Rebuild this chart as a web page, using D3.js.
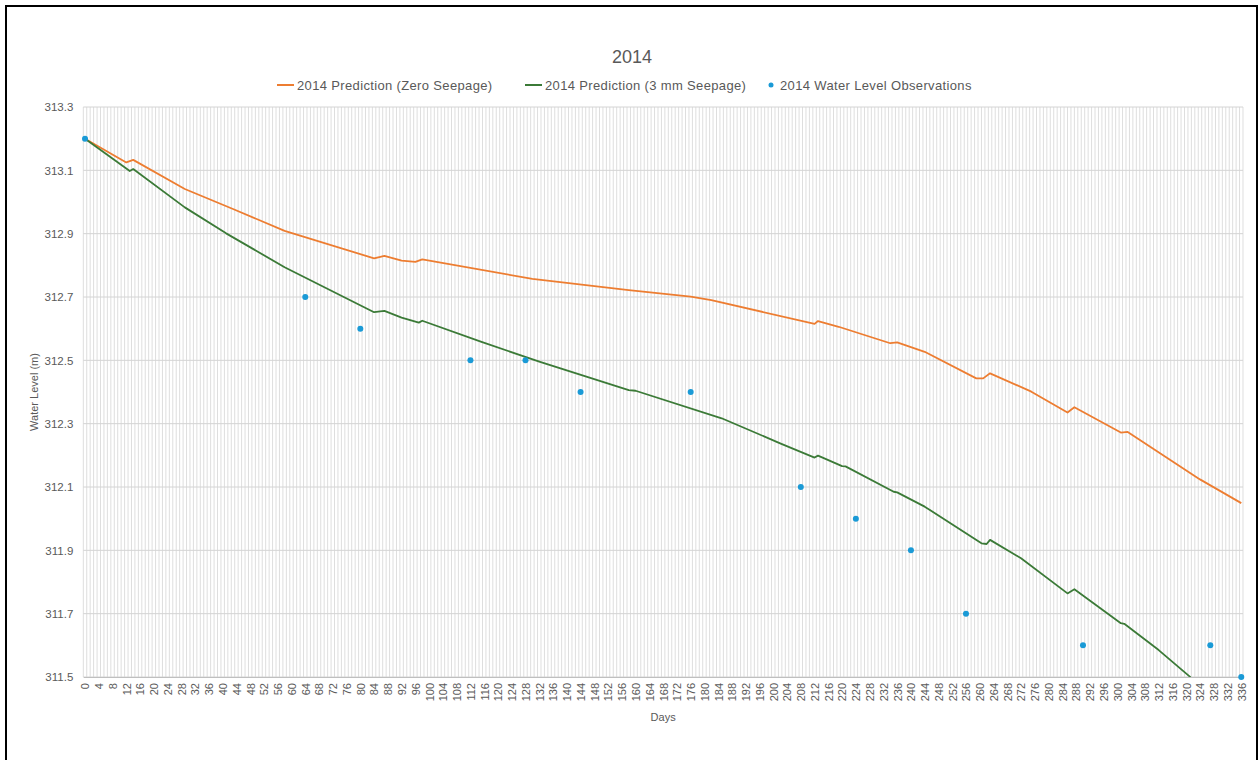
<!DOCTYPE html>
<html>
<head>
<meta charset="utf-8">
<script src="https://cdnjs.cloudflare.com/ajax/libs/d3/7.8.5/d3.min.js"></script>
<style>
  body { margin: 0; background: #fff; }
  text { font-family: "Liberation Sans", Arial, sans-serif; fill: #595959; }
</style>
</head>
<body>
<div id="chart"></div>
<script>
// days with a reading on each series
var zeroDays = [0, 12, 14, 29, 43, 58, 84, 87, 92, 96, 98, 130, 158, 176, 182, 212, 213, 219, 234, 236, 244, 259, 261, 263, 275, 285.5, 287.5, 301, 303, 324, 336];
var zeroLevel = [313.2, 313.125, 313.133, 313.041, 312.978, 312.909, 312.822, 312.830, 312.815, 312.811, 312.819, 312.757, 312.722, 312.701, 312.690, 312.615, 312.624, 312.606, 312.554, 312.557, 312.527, 312.443, 312.443, 312.459, 312.401, 312.335, 312.352, 312.272, 312.274, 312.124, 312.049];

var seepDays = [0, 13, 14, 29, 41, 58, 84, 87, 92, 97, 98, 115, 132, 158, 160, 185, 202, 212, 213, 220, 221, 235, 236, 244, 260.5, 262, 263, 272, 285.5, 287.5, 301, 302, 312, 321.3];
var seepLevel = [313.2, 313.098, 313.104, 312.983, 312.901, 312.794, 312.652, 312.656, 312.635, 312.619, 312.625, 312.559, 312.496, 312.406, 312.404, 312.317, 312.238, 312.193, 312.199, 312.166, 312.165, 312.085, 312.083, 312.038, 311.922, 311.920, 311.933, 311.875, 311.764, 311.777, 311.670, 311.668, 311.585, 311.499];

var obsDays = [0, 64, 80, 112, 128, 144, 176, 208, 224, 240, 256, 290, 327, 336];
var obsLevel = [313.2, 312.7, 312.6, 312.5, 312.5, 312.4, 312.4, 312.1, 312.0, 311.9, 311.7, 311.6, 311.6, 311.5];

var yTicks = [311.5, 311.7, 311.9, 312.1, 312.3, 312.5, 312.7, 312.9, 313.1, 313.3];
var xTicks = d3.range(0, 337, 4);
var allDays = d3.range(0, 337);

var seriesNames = ["2014 Prediction (Zero Seepage)", "2014 Prediction (3 mm Seepage)", "2014 Water Level Observations"];
var colors = ["#ed7d31", "#3b7a37", "#1a9ad6"];

var W = 1260, H = 760;
var margin = {top: 107, right: 17, bottom: 83, left: 83.3};
var width = W - margin.left - margin.right;
var height = H - margin.top - margin.bottom;

var x = d3.scaleLinear().domain([-0.5, 336.5]).range([0, width]);
var y = d3.scaleLinear().domain([311.5, 313.3]).range([height, 0]);

var svg = d3.select("#chart").append("svg")
    .attr("width", W)
    .attr("height", H);

svg.append("rect")
    .attr("x", 6).attr("y", 6)
    .attr("width", 1251).attr("height", 800)
    .attr("fill", "none")
    .attr("stroke", "#000")
    .attr("stroke-width", 2);

svg.append("text")
    .attr("x", 632).attr("y", 63)
    .attr("text-anchor", "middle")
    .style("font-size", "18px")
    .text("2014");

var g = svg.append("g")
    .attr("transform", "translate(" + margin.left + "," + margin.top + ")");

// dense day grid
g.append("g").selectAll("line")
    .data(allDays.concat([337]))
    .enter().append("line")
      .attr("x1", function(d) { return x(d - 0.5); })
      .attr("x2", function(d) { return x(d - 0.5); })
      .attr("y1", 0).attr("y2", height)
      .attr("stroke", "#dedede")
      .attr("stroke-width", 1);

g.append("g").selectAll("line")
    .data(yTicks)
    .enter().append("line")
      .attr("x1", 0).attr("x2", width)
      .attr("y1", function(d) { return y(d); })
      .attr("y2", function(d) { return y(d); })
      .attr("stroke", "#d4d4d4")
      .attr("stroke-width", 1);

// y axis
var yAxis = g.append("g")
    .call(d3.axisLeft(y).tickValues(yTicks).tickSize(0).tickPadding(10).tickFormat(d3.format(".1f")));
yAxis.select(".domain").remove();
yAxis.selectAll("text")
    .style("font-size", "11.5px")
    .style("fill", "#595959")
    .style("font-family", "'Liberation Sans', Arial, sans-serif");

// x axis
var xAxis = g.append("g")
    .attr("transform", "translate(0," + height + ")")
    .call(d3.axisBottom(x).tickValues(xTicks).tickSize(0).tickFormat(d3.format("d")));
xAxis.select(".domain").attr("stroke", "#bfbfbf");
xAxis.selectAll("text")
    .attr("transform", "rotate(-90)")
    .attr("text-anchor", "end")
    .attr("x", -6)
    .attr("y", 0)
    .attr("dy", "0.35em")
    .style("font-size", "11px")
    .style("fill", "#595959")
    .style("font-family", "'Liberation Sans', Arial, sans-serif");

svg.append("text")
    .attr("x", margin.left + width / 2)
    .attr("y", 721)
    .attr("text-anchor", "middle")
    .style("font-size", "11px")
    .text("Days");

svg.append("text")
    .attr("transform", "translate(38," + (margin.top + height / 2) + ") rotate(-90)")
    .attr("text-anchor", "middle")
    .style("font-size", "11px")
    .text("Water Level (m)");

g.append("clipPath").attr("id", "clip")
  .append("rect").attr("width", width).attr("height", height);

var line = d3.line()
    .x(function(d) { return x(d[0]); })
    .y(function(d) { return y(d[1]); });

g.append("path")
    .datum(d3.zip(zeroDays, zeroLevel))
    .attr("fill", "none")
    .attr("stroke", colors[0])
    .attr("stroke-width", 1.8)
    .attr("stroke-linejoin", "round")
    .attr("clip-path", "url(#clip)")
    .attr("d", line);

g.append("path")
    .datum(d3.zip(seepDays, seepLevel))
    .attr("fill", "none")
    .attr("stroke", colors[1])
    .attr("stroke-width", 1.8)
    .attr("stroke-linejoin", "round")
    .attr("clip-path", "url(#clip)")
    .attr("d", line);

g.append("g").selectAll("circle")
    .data(d3.zip(obsDays, obsLevel))
    .enter().append("circle")
      .attr("cx", function(d) { return x(d[0]); })
      .attr("cy", function(d) { return y(d[1]); })
      .attr("r", 3)
      .attr("fill", colors[2]);

// legend
var legendX = [277, 525, 767];
var legend = svg.append("g");
seriesNames.forEach(function(name, i) {
  var lg = legend.append("g").attr("transform", "translate(" + legendX[i] + ",85)");
  if (i < 2) {
    lg.append("line").attr("x1", 0).attr("x2", 17).attr("y1", 0).attr("y2", 0)
      .attr("stroke", colors[i]).attr("stroke-width", 2);
  } else {
    lg.append("circle").attr("cx", 4).attr("cy", 0).attr("r", 2.5).attr("fill", colors[i]);
  }
  lg.append("text")
    .attr("x", i < 2 ? 20 : 13)
    .attr("y", 0)
    .attr("dy", "0.35em")
    .style("font-size", "13px")
    .style("letter-spacing", "0.35px")
    .text(name);
});
</script>
</body>
</html>
